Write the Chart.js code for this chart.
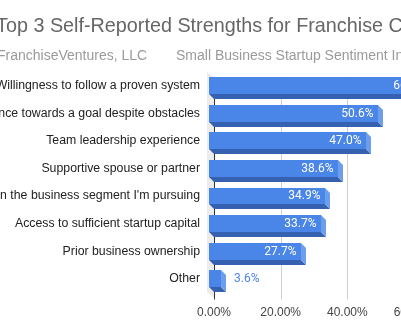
<!DOCTYPE html>
<html>
<head>
<meta charset="utf-8">
<script src="https://cdn.jsdelivr.net/npm/chart.js@4.4.1/dist/chart.umd.min.js"></script>
<style>
  html, body { margin: 0; padding: 0; background: #fff; }
  #frame { position: relative; width: 401px; height: 335px; overflow: hidden; background: #fff; }
  #frame canvas { position: absolute; left: 0; top: 0; }
</style>
</head>
<body>
<div id="frame"><canvas id="c" width="520" height="335"></canvas></div>
<script>
// Survey answers, share of respondents (%)
const categories = [
  "Willingness to follow a proven system",
  "Perseverance towards a goal despite obstacles",
  "Team leadership experience",
  "Supportive spouse or partner",
  "Experience in the business segment I'm pursuing",
  "Access to sufficient startup capital",
  "Prior business ownership",
  "Other"
];
const values = [66.3, 50.6, 47.0, 38.6, 34.9, 33.7, 27.7, 3.6];
const axisMax = 80;
const axisStep = 20;

const titleText = "Top 3 Self-Reported Strengths for Franchise Candidates";
const sourceText = "FranchiseVentures, LLC";
const surveyText = "Small Business Startup Sentiment Index";

const SANS = '"Liberation Sans", Arial, sans-serif';
const DEPTH = 5;
const FACE = '#4a86e8';
const FACE_BOTTOM = '#3561b0';
const FACE_SIDE = '#6d9eeb';

function poly(ctx, pts, color) {
  ctx.fillStyle = color;
  ctx.beginPath();
  ctx.moveTo(pts[0][0], pts[0][1]);
  for (let i = 1; i < pts.length; i++) ctx.lineTo(pts[i][0], pts[i][1]);
  ctx.closePath();
  ctx.fill();
}

// 3D walls, grid and extruded bars
const box3d = {
  id: 'box3d',
  beforeDatasetsDraw(chart) {
    const { ctx, chartArea: a, scales: { x } } = chart;
    const base = Math.round(x.getPixelForValue(0));
    ctx.save();
    poly(ctx, [
      [base - DEPTH - 2, a.top],
      [base, a.top + DEPTH],
      [base, a.bottom + DEPTH],
      [base - DEPTH - 2, a.bottom]
    ], '#ececec');
    ctx.lineWidth = 1;
    ctx.strokeStyle = '#cfcfcf';
    x.ticks.forEach(t => {
      if (t.value === 0) return;
      const px = Math.round(x.getPixelForValue(t.value)) + 0.5;
      ctx.beginPath();
      ctx.moveTo(px, a.top + DEPTH);
      ctx.lineTo(px, a.bottom + DEPTH + 2);
      ctx.stroke();
    });
    ctx.strokeStyle = '#333333';
    ctx.beginPath();
    ctx.moveTo(base + 0.5, a.top + DEPTH);
    ctx.lineTo(base + 0.5, a.bottom + DEPTH + 2);
    ctx.stroke();
    ctx.restore();
  },
  afterDatasetsDraw(chart) {
    const { ctx } = chart;
    const meta = chart.getDatasetMeta(0);
    ctx.save();
    ctx.font = '12px Roboto, sans-serif';
    ctx.textBaseline = 'middle';
    meta.data.forEach((bar, i) => {
      const p = bar.getProps(['x', 'y', 'base', 'height'], true);
      const xb = Math.round(p.base), xe = Math.round(p.x);
      const top = Math.round(p.y - p.height / 2), bot = Math.round(p.y + p.height / 2);
      // underside
      poly(ctx, [[xb - DEPTH, bot], [xe - DEPTH, bot], [xe, bot + DEPTH], [xb, bot + DEPTH]], FACE_BOTTOM);
      // end cap
      poly(ctx, [[xe - DEPTH, top], [xe, top + DEPTH], [xe, bot + DEPTH], [xe - DEPTH, bot]], FACE_SIDE);
      // front face
      poly(ctx, [[xb - DEPTH, top], [xe - DEPTH, top], [xe - DEPTH, bot], [xb - DEPTH, bot]], FACE);
      // value label
      const label = values[i].toFixed(1) + '%';
      const w = ctx.measureText(label).width;
      if (w + 14 < xe - xb) {
        ctx.fillStyle = '#ffffff';
        ctx.textAlign = 'right';
        ctx.fillText(label, xe - DEPTH - 4.5, p.y + 0.5);
      } else {
        ctx.fillStyle = FACE;
        ctx.textAlign = 'left';
        ctx.fillText(label, xe + 8, p.y + 0.5);
      }
    });
    ctx.restore();
  },
  afterDraw(chart) {
    const { ctx } = chart;
    ctx.save();
    ctx.textBaseline = 'alphabetic';
    ctx.textAlign = 'left';
    ctx.font = '19.8px ' + SANS;
    ctx.fillStyle = '#666666';
    ctx.fillText(titleText, -4, 32);
    ctx.font = '14px ' + SANS;
    ctx.fillStyle = '#9a9a9a';
    ctx.fillText(sourceText, -3, 60);
    ctx.fillText(surveyText, 176, 60);
    ctx.restore();
  }
};

new Chart(document.getElementById('c'), {
  type: 'bar',
  data: {
    labels: categories,
    datasets: [{
      data: values,
      backgroundColor: 'rgba(0,0,0,0)',
      borderWidth: 0,
      barPercentage: 0.61,
      categoryPercentage: 1
    }]
  },
  options: {
    indexAxis: 'y',
    responsive: false,
    animation: false,
    events: [],
    layout: { padding: { top: 71.9, right: 39.33, bottom: 0, left: 0 } },
    plugins: { legend: { display: false }, tooltip: { enabled: false }, title: { display: false } },
    scales: {
      x: {
        min: 0,
        max: axisMax,
        afterFit(s) { s.height = 42.5; },
        grid: { display: false, drawTicks: false },
        border: { display: false },
        ticks: {
          stepSize: axisStep,
          padding: 13,
          maxRotation: 0,
          color: '#444444',
          font: { family: SANS, size: 12 },
          callback: v => Number(v).toFixed(2) + '%'
        }
      },
      y: {
        afterFit(s) { s.width = 214; },
        grid: { display: false, drawTicks: false },
        border: { display: false },
        ticks: {
          padding: 14,
          color: '#222222',
          font: { family: SANS, size: 12.3 }
        }
      }
    }
  },
  plugins: [box3d]
});
</script>
</body>
</html>
